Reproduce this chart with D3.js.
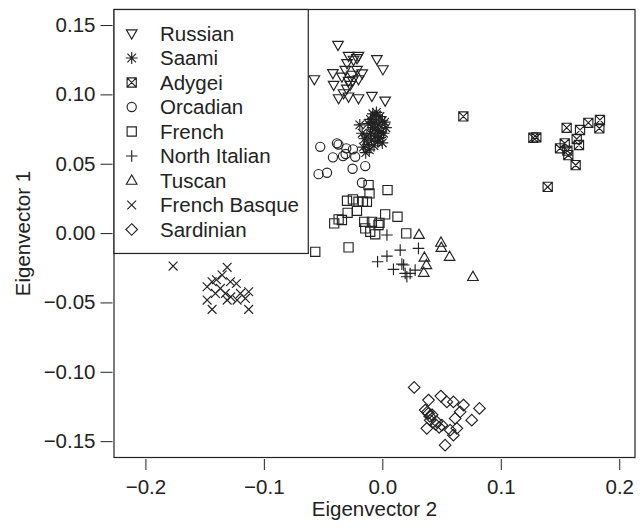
<!DOCTYPE html>
<html><head><meta charset="utf-8">
<script src="https://cdn.jsdelivr.net/npm/d3@7"></script>
<style>
html,body{margin:0;padding:0;background:#fff;}
svg text{font-family:"Liberation Sans",Arial,Helvetica,sans-serif;fill:#222;}
</style></head>
<body>
<svg id="chart" width="642" height="532"></svg>
<script>
// ---- data (Eigenvector 2, Eigenvector 1) ----
const populations = ["Russian","Saami","Adygei","Orcadian","French","North Italian","Tuscan","French Basque","Sardinian"];
const symbols = ["triDown","asterisk","boxX","circle","square","plus","triUp","cross","diamond"];
const xTicks = [-0.2,-0.1,0.0,0.1,0.2];
const xTickLabels = ["\u22120.2","\u22120.1","0.0","0.1","0.2"];
const yTicks = [0.15,0.10,0.05,0.00,-0.05,-0.10,-0.15];
const yTickLabels = ["0.15","0.10","0.05","0.00","\u22120.05","\u22120.10","\u22120.15"];

const russian = [[-0.0374,0.1356],[-0.0285,0.1276],[-0.0201,0.1276],[-0.0214,0.1260],[-0.0046,0.1253],[0.0005,0.1180],
  [-0.0298,0.1224],[-0.0214,0.1175],[-0.0574,0.1108],[-0.0417,0.1152],[-0.0341,0.1127],[-0.0285,0.1096],[-0.0201,0.1108],
  [-0.0271,0.1067],[-0.0411,0.1067],[-0.0327,0.1007],[-0.0369,0.0971],[-0.0285,0.0983],[-0.0201,0.0971],[-0.0088,0.0988],
  [0.0024,0.0954],[-0.0243,0.1248],[-0.0313,0.1175],[-0.0255,0.1140],[-0.0300,0.1040],[-0.0170,0.1150],[-0.0250,0.1100]];
const saami = [[-0.0050,0.0870],[-0.0080,0.0860],[-0.0020,0.0840],[-0.0100,0.0820],[0.0000,0.0810],[-0.0060,0.0800],
  [-0.0030,0.0780],[-0.0120,0.0790],[-0.0190,0.0780],[-0.0080,0.0760],[-0.0040,0.0740],[-0.0010,0.0730],[-0.0100,0.0720],
  [-0.0060,0.0700],[-0.0020,0.0690],[-0.0150,0.0680],[-0.0090,0.0670],[-0.0040,0.0660],[-0.0120,0.0640],[-0.0070,0.0630],
  [-0.0160,0.0620],[-0.0110,0.0600],[-0.0140,0.0580],[0.0010,0.0720],[-0.0050,0.0850],[-0.0070,0.0750],[-0.0030,0.0680],
  [0.0020,0.0800],[-0.0090,0.0800],[-0.0130,0.0700],[0.0000,0.0650],[-0.0170,0.0720],[0.0030,0.0760]];
const adygei = [[0.0684,0.0841],[0.1275,0.0687],[0.1300,0.0690],[0.1500,0.0611],[0.1540,0.0647],[0.1562,0.0594],
  [0.1570,0.0562],[0.1556,0.0759],[0.1641,0.0678],[0.1660,0.0635],[0.1669,0.0743],[0.1739,0.0795],[0.1837,0.0815],
  [0.1832,0.0755],[0.1632,0.0490],[0.1396,0.0333]];
const orcadian = [[-0.0524,0.0622],[-0.0383,0.0647],[-0.0370,0.0638],[-0.0417,0.0546],[-0.0332,0.0555],[-0.0304,0.0611],
  [-0.0229,0.0550],[-0.0248,0.0604],[-0.0144,0.0483],[-0.0251,0.0464],[-0.0538,0.0425],[-0.0467,0.0435],[-0.0172,0.0363],
  [-0.0310,0.0570]];
const french = [[-0.0116,0.0346],[-0.0108,0.0286],[0.0044,0.0310],[-0.0298,0.0233],[-0.0248,0.0243],[-0.0201,0.0226],
  [-0.0164,0.0226],[-0.0130,0.0226],[-0.0214,0.0161],[-0.0293,0.0146],[-0.0369,0.0099],[-0.0406,0.0070],[-0.0341,0.0094],
  [0.0024,0.0135],[0.0128,0.0118],[-0.0153,0.0081],[-0.0088,0.0081],[-0.0024,0.0074],[-0.0144,0.0034],[-0.0102,0.0009],
  [-0.0060,-0.0009],[-0.0032,0.0058],[0.0202,-0.0002],[-0.0566,-0.0135],[-0.0285,-0.0103]];
const northItalian = [[0.0039,-0.0014],[0.0151,-0.0123],[0.0305,-0.0110],[0.0039,-0.0166],[-0.0040,-0.0207],[0.0094,-0.0262],
  [0.0165,-0.0224],[0.0193,-0.0291],[0.0235,-0.0291],[0.0277,-0.0267],[0.0207,-0.0315],[0.0180,-0.0230]];
const tuscan = [[0.0310,-0.0012],[0.0495,-0.0068],[0.0498,-0.0105],[0.0568,-0.0170],[0.0355,-0.0176],[0.0372,-0.0230],
  [0.0350,-0.0285],[0.0765,-0.0315]];
const frenchBasque = [[-0.1766,-0.0238],[-0.1310,-0.0247],[-0.1352,-0.0303],[-0.1437,-0.0351],[-0.1282,-0.0351],
  [-0.1232,-0.0363],[-0.1479,-0.0387],[-0.1367,-0.0399],[-0.1409,-0.0435],[-0.1325,-0.0435],[-0.1198,-0.0435],
  [-0.1128,-0.0423],[-0.1479,-0.0483],[-0.1310,-0.0483],[-0.1226,-0.0483],[-0.1156,-0.0471],[-0.1437,-0.0550],
  [-0.1128,-0.0550],[-0.1400,-0.0336],[-0.1280,-0.0460]];
const sardinian = [[0.0269,-0.1113],[0.0390,-0.1204],[0.0494,-0.1175],[0.0545,-0.1217],[0.0600,-0.1217],[0.0685,-0.1240],
  [0.0820,-0.1264],[0.0362,-0.1276],[0.0390,-0.1300],[0.0404,-0.1349],[0.0657,-0.1289],[0.0755,-0.1349],[0.0615,-0.1336],
  [0.0460,-0.1361],[0.0503,-0.1385],[0.0376,-0.1408],[0.0573,-0.1421],[0.0629,-0.1408],[0.0600,-0.1457],[0.0530,-0.1529],
  [0.0380,-0.1290],[0.0400,-0.1320],[0.0420,-0.1310],[0.0450,-0.1380],[0.0480,-0.1400]];
const seriesData = [russian,saami,adygei,orcadian,french,northItalian,tuscan,frenchBasque,sardinian];

// ---- layout ----
const plot = {left:114, right:635, top:9.5, bottom:457.5};
const xScale = d3.scaleLinear().domain([-0.2265,0.2133]).range([plot.left, plot.right]);
const yScale = d3.scaleLinear().domain([-0.1618,0.1612]).range([plot.bottom, plot.top]);
const ink = "#222";
const sw = 1.15;

const svg = d3.select("#chart");

function symbolPath(type){
  switch(type){
    case "triDown": return "M-5.3,-3.7L5.3,-3.7L0,5.5Z";
    case "triUp": return "M-5.3,3.7L5.3,3.7L0,-5.5Z";
    case "circle": return "M4.6,0A4.6,4.6 0 1 1 -4.6,0A4.6,4.6 0 1 1 4.6,0Z";
    case "square": return "M-4.6,-4.6H4.6V4.6H-4.6Z";
    case "boxX": return "M-4.6,-4.6H4.6V4.6H-4.6ZM-4.6,-4.6L4.6,4.6M4.6,-4.6L-4.6,4.6";
    case "plus": return "M-5.8,0H5.8M0,-5.8V5.8";
    case "cross": return "M-4.4,-4.4L4.4,4.4M4.4,-4.4L-4.4,4.4";
    case "asterisk": return "M-6,0H6M0,-6V6M-4.3,-4.3L4.3,4.3M4.3,-4.3L-4.3,4.3";
    case "diamond": return "M0,-5.8L5.8,0L0,5.8L-5.8,0Z";
  }
}

// points
const pts = svg.append("g");
seriesData.forEach((arr,i)=>{
  pts.append("g").selectAll("path").data(arr).join("path")
    .attr("transform",d=>`translate(${xScale(d[0])},${yScale(d[1])})`)
    .attr("d",symbolPath(symbols[i]))
    .attr("fill","none").attr("stroke",ink).attr("stroke-width",sw);
});

// axes
const xAxis = d3.axisBottom(xScale).tickValues(xTicks).tickSize(11).tickPadding(9)
  .tickFormat((d,i)=>xTickLabels[i]);
const gx = svg.append("g").attr("transform",`translate(0,${plot.bottom+1.5})`).call(xAxis);
gx.select(".domain").remove();
gx.selectAll("line").attr("stroke",ink).attr("stroke-width",1);
gx.selectAll("text").attr("font-size",20.5).attr("fill",ink).attr("font-family","Liberation Sans, Arial, sans-serif");

const yAxis = d3.axisLeft(yScale).tickValues(yTicks).tickSize(12).tickPadding(5)
  .tickFormat((d,i)=>yTickLabels[i]);
const gy = svg.append("g").attr("transform",`translate(${plot.left-1.5},0)`).call(yAxis);
gy.select(".domain").remove();
gy.selectAll("line").attr("stroke",ink).attr("stroke-width",1);
gy.selectAll("text").attr("font-size",20.5).attr("fill",ink).attr("font-family","Liberation Sans, Arial, sans-serif");

// plot box
svg.append("rect").attr("x",plot.left).attr("y",plot.top)
  .attr("width",plot.right-plot.left).attr("height",plot.bottom-plot.top)
  .attr("fill","none").attr("stroke",ink).attr("stroke-width",1.2);

// axis titles
svg.append("text").attr("x",(plot.left+plot.right)/2).attr("y",516)
  .attr("text-anchor","middle").attr("font-size",20.5).text("Eigenvector 2");
svg.append("text").attr("transform",`translate(30,${(plot.top+plot.bottom)/2}) rotate(-90)`)
  .attr("text-anchor","middle").attr("font-size",20.5).text("Eigenvector 1");

// legend
const leg = svg.append("g");
const legRight = xScale(-0.0625), legBottom = yScale(-0.0147);
leg.append("rect").attr("x",plot.left).attr("y",plot.top)
  .attr("width",legRight-plot.left).attr("height",legBottom-plot.top)
  .attr("fill","#fff").attr("stroke",ink).attr("stroke-width",1.2);
populations.forEach((name,i)=>{
  const cy = 33.5 + i*24.5;
  leg.append("path").attr("transform",`translate(131.7,${cy})`).attr("d",symbolPath(symbols[i]))
    .attr("fill","none").attr("stroke",ink).attr("stroke-width",sw);
  leg.append("text").attr("x",160).attr("y",cy+7).attr("font-size",20.5).text(name);
});
</script>
</body></html>
